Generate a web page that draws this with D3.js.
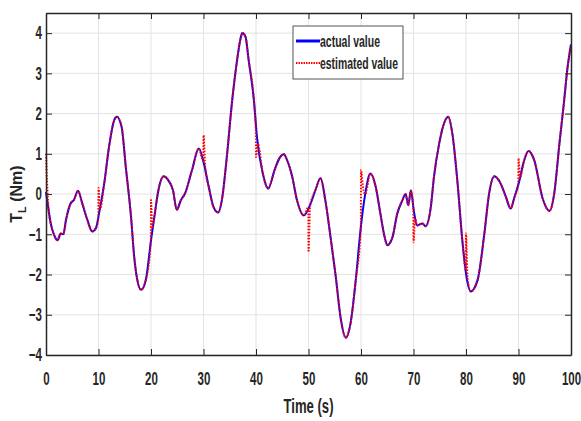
<!DOCTYPE html>
<html>
<head>
<meta charset="utf-8">
<script src="https://cdn.jsdelivr.net/npm/d3@7"></script>
<style>
  body { margin: 0; background: #fff; }
  .lbl { font-family: "Liberation Sans", Arial, sans-serif; font-weight: bold; fill: #262626; }
</style>
</head>
<body>
<svg class="torque" width="581" height="421"></svg>
<script>
// actual load torque
var timeActual = [0, 0.5, 0.9, 1.5, 2.2, 2.8, 3.3, 3.8, 4.7, 5.3, 6.1, 6.9, 7.9, 8.8, 9.5, 10.1, 11.1, 12.0, 13.0, 13.5,
    14.4, 15.2, 16.2, 16.8, 17.4, 18.1, 19.0, 20.0, 20.6, 21.4, 22.4, 23.3, 24.2, 24.9, 25.7, 26.5, 27.8, 29.1, 30.0, 31.0,
    31.9, 32.8, 33.5, 34.5, 35.4, 36.4, 37.0, 37.4, 38.0, 38.6, 39.6, 40.2, 41.3, 42.3, 43.6, 44.5, 45.3, 45.9, 46.9, 47.8,
    49.1, 50.4, 51.3, 52.3, 53.2, 54.2, 55.2, 56.1, 57.1, 58.0, 59.0, 59.9, 60.8, 61.8, 62.8, 63.7, 64.5, 65.0, 66.0, 66.9,
    67.9, 68.5, 69.0, 69.5, 70.1, 70.7, 71.7, 72.3, 73.3, 73.9, 74.9, 75.8, 76.6, 77.4, 78.4, 79.3, 80.2, 80.9, 82.2, 83.5,
    84.4, 85.4, 86.6, 87.6, 88.5, 89.2, 90.1, 91.0, 91.9, 93.0, 94.6, 95.9, 96.8, 97.8, 98.7, 99.3, 100];
var actualValue = [0.05, -0.4, -0.73, -1.0, -1.15, -0.98, -1.0, -0.65, -0.23, -0.15, 0.08, -0.23, -0.65, -0.93, -0.85, -0.48, 0.27, 1.17, 1.84, 1.92,
    1.67, 0.67, -0.57, -1.56, -2.14, -2.38, -2.14, -1.15, -0.6, 0.09, 0.44, 0.34, 0.09, -0.39, -0.15, 0.02, 0.59, 1.13, 0.8, 0.18,
    -0.32, -0.46, -0.15, 1.0, 2.25, 3.33, 3.83, 4.0, 3.91, 3.33, 2.33, 1.4, 0.51, 0.14, 0.62, 0.9, 0.99, 0.85, 0.43, -0.15,
    -0.53, -0.24, 0.09, 0.39, -0.15, -1.07, -2.06, -3.06, -3.57, -3.22, -2.14, -0.9, 0.0, 0.51, 0.18, -0.49, -1.07, -1.27, -1.07, -0.49,
    -0.15, 0.0, -0.28, 0.09, -0.45, -0.78, -0.73, -0.8, -0.32, 0.43, 1.26, 1.75, 1.92, 1.5, 0.26, -1.15, -2.14, -2.42, -2.14, -0.98,
    0.01, 0.44, 0.26, -0.07, -0.36, -0.09, 0.3, 0.8, 1.07, 0.84, -0.11, -0.42, 0.01, 1.26, 2.33, 3.1, 3.72];

// estimated load torque, with the jumps at each 10 s reset
var timeEstimated = [0, 0.2, 0.5, 0.9, 1.5, 2.2, 2.8, 3.3, 3.8, 4.7, 5.3, 6.1, 6.9, 7.9, 8.8, 9.5, 9.97, 10.0, 10.3, 11.1, 12.0, 13.0, 13.5,
    14.4, 15.2, 16.2, 16.8, 17.4, 18.1, 19.0, 19.97, 20.0, 20.25, 20.6, 21.4, 22.4, 23.3, 24.2, 24.9, 25.7, 26.5, 27.8, 29.1, 29.97, 30.0, 30.35, 31.0,
    31.9, 32.8, 33.5, 34.5, 35.4, 36.4, 37.0, 37.4, 38.0, 38.6, 39.6, 39.97, 40.0, 40.35, 41.3, 42.3, 43.6, 44.5, 45.3, 45.9, 46.9, 47.8,
    49.1, 49.97, 50.0, 50.3, 51.3, 52.3, 53.2, 54.2, 55.2, 56.1, 57.1, 58.0, 59.0, 59.97, 60.0, 60.4, 60.8, 61.8, 62.8, 63.7, 64.5, 65.0, 66.0, 66.9,
    67.9, 68.5, 69.0, 69.5, 69.97, 70.0, 70.3, 70.7, 71.7, 72.3, 73.3, 73.9, 74.9, 75.8, 76.6, 77.4, 78.4, 79.3, 79.97, 80.0, 80.3, 80.9, 82.2, 83.5,
    84.4, 85.4, 86.6, 87.6, 88.5, 89.2, 89.97, 90.0, 90.3, 91.0, 91.9, 93.0, 94.6, 95.9, 96.8, 97.8, 98.7, 99.3, 100];
var estimatedValue = [1.0, 0.3, -0.4, -0.73, -1.0, -1.15, -0.98, -1.0, -0.65, -0.23, -0.15, 0.08, -0.23, -0.65, -0.93, -0.85, -0.58, 0.15, -0.38, 0.27, 1.17, 1.84, 1.92,
    1.67, 0.67, -0.57, -1.56, -2.14, -2.38, -2.14, -1.17, -0.15, -0.85, -0.6, 0.09, 0.44, 0.34, 0.09, -0.39, -0.15, 0.02, 0.59, 1.13, 0.82, 1.46, 0.62, 0.18,
    -0.32, -0.46, -0.15, 1.0, 2.25, 3.33, 3.83, 4.0, 3.91, 3.33, 2.33, 1.55, 0.92, 1.25, 0.51, 0.14, 0.62, 0.9, 0.99, 0.85, 0.43, -0.15,
    -0.53, -0.33, -1.44, -0.3, 0.09, 0.39, -0.15, -1.07, -2.06, -3.06, -3.57, -3.22, -2.14, -0.83, 0.6, 0.15, 0.0, 0.51, 0.18, -0.49, -1.07, -1.27, -1.07, -0.49,
    -0.15, 0.0, -0.28, 0.09, -0.38, -1.2, -0.6, -0.78, -0.73, -0.8, -0.32, 0.43, 1.26, 1.75, 1.92, 1.5, 0.26, -1.15, -1.9, -0.98, -2.1, -2.42, -2.14, -0.98,
    0.01, 0.44, 0.26, -0.07, -0.36, -0.09, 0.25, 0.89, 0.4, 0.8, 1.07, 0.84, -0.11, -0.42, 0.01, 1.26, 2.33, 3.1, 3.72];

var xTicks = [0, 10, 20, 30, 40, 50, 60, 70, 80, 90, 100];
var yTicks = [-4, -3, -2, -1, 0, 1, 2, 3, 4];
var seriesNames = ["actual value", "estimated value"];

var svg = d3.select("svg.torque"),
    margin = {top: 13, right: 10, bottom: 66, left: 46},
    width = +svg.attr("width") - margin.left - margin.right,
    height = +svg.attr("height") - margin.top - margin.bottom,
    g = svg.append("g").attr("transform", "translate(" + margin.left + "," + margin.top + ")");

var x = d3.scaleLinear().domain([0, 100]).range([0, width]),
    y = d3.scaleLinear().domain([-4, 4.5]).range([height, 0]);

var actual = timeActual.map(function(t, i) { return {t: t, v: actualValue[i]}; });
var estimated = timeEstimated.map(function(t, i) { return {t: t, v: estimatedValue[i]}; });

// grid
g.append("g").selectAll("line").data(xTicks.slice(1, -1)).enter().append("line")
    .attr("x1", function(d) { return x(d); }).attr("x2", function(d) { return x(d); })
    .attr("y1", 0).attr("y2", height)
    .style("stroke", "#e3e3e3").style("stroke-width", 1);
g.append("g").selectAll("line").data(yTicks).enter().append("line")
    .attr("y1", function(d) { return y(d); }).attr("y2", function(d) { return y(d); })
    .attr("x1", 0).attr("x2", width)
    .style("stroke", "#e3e3e3").style("stroke-width", 1);

var line = d3.line()
    .curve(d3.curveMonotoneX)
    .x(function(d) { return x(d.t); })
    .y(function(d) { return y(d.v); });

g.append("path")
    .datum(actual)
    .attr("d", line)
    .style("fill", "none")
    .style("stroke", "#0000ff")
    .style("stroke-width", 2);

g.append("path")
    .datum(estimated)
    .attr("d", line)
    .style("fill", "none")
    .style("stroke", "#ff0000")
    .style("stroke-width", 2)
    .style("stroke-dasharray", "1.5,1.5");

// axes, ticks inward on all four sides like matlab box on
var axisStyle = function(sel) {
    sel.select(".domain").style("stroke", "#262626").style("stroke-width", 1.5);
    sel.selectAll(".tick line").style("stroke", "#262626").style("stroke-width", 1);
};

// condensed look of the tick labels: squeeze them horizontally
var squeeze = 0.64;

g.append("g")
    .attr("transform", "translate(0," + height + ")")
    .call(d3.axisBottom(x).tickValues(xTicks).tickSizeInner(-6).tickSizeOuter(0).tickPadding(17))
    .call(axisStyle)
    .selectAll("text")
    .attr("transform", "scale(" + squeeze + ",1)");

g.append("g")
    .call(d3.axisTop(x).tickValues(xTicks).tickSizeInner(-6).tickSizeOuter(0).tickFormat(""))
    .call(axisStyle);

g.append("g")
    .call(d3.axisLeft(y).tickValues(yTicks).tickSizeInner(-6).tickSizeOuter(0).tickFormat(d3.format("d")))
    .call(axisStyle)
    .selectAll("text")
    .attr("x", -4 / squeeze)
    .attr("transform", "scale(" + squeeze + ",1)");

g.append("g")
    .attr("transform", "translate(" + width + ",0)")
    .call(d3.axisRight(y).tickValues(yTicks).tickSizeInner(-6).tickSizeOuter(0).tickFormat(""))
    .call(axisStyle);

g.selectAll(".tick text")
    .style("font-family", "'Liberation Sans', Arial, sans-serif")
    .style("font-weight", "bold")
    .style("font-size", "18px")
    .style("fill", "#262626");

// axis titles
svg.append("text")
    .attr("class", "lbl")
    .attr("x", margin.left + width / 2)
    .attr("y", 413)
    .attr("text-anchor", "middle")
    .attr("textLength", 50)
    .attr("lengthAdjust", "spacingAndGlyphs")
    .style("font-size", "20px")
    .text("Time (s)");

var ylab = svg.append("text")
    .attr("transform", "translate(22," + (margin.top + y(0)) + ") rotate(-90)")
    .attr("text-anchor", "middle")
    .attr("class", "lbl")
    .style("font-size", "16px");
ylab.append("tspan").text("T");
ylab.append("tspan").attr("dy", 4).style("font-size", "11px").text("L");
ylab.append("tspan").attr("dy", -4).text(" (Nm)");

// legend
var legend = svg.append("g").attr("transform", "translate(293,26)");
legend.append("rect")
    .attr("width", 110).attr("height", 53)
    .style("fill", "#fff").style("stroke", "#555").style("stroke-width", 1);
var item = legend.selectAll(".item").data(seriesNames).enter().append("g")
    .attr("transform", function(d, i) { return "translate(0," + (15 + i * 22) + ")"; });
item.append("line")
    .attr("x1", 3).attr("x2", 27).attr("y1", 0).attr("y2", 0)
    .style("stroke", function(d, i) { return i ? "#ff0000" : "#0000ff"; })
    .style("stroke-width", function(d, i) { return i ? 2 : 3; })
    .style("stroke-dasharray", function(d, i) { return i ? "1.5,1" : null; });
item.append("text")
    .attr("class", "lbl")
    .attr("x", 27).attr("y", 6)
    .attr("textLength", function(d, i) { return i ? 78 : 60; })
    .attr("lengthAdjust", "spacingAndGlyphs")
    .style("font-size", "17px")
    .text(function(d) { return d; });
</script>
</body>
</html>
